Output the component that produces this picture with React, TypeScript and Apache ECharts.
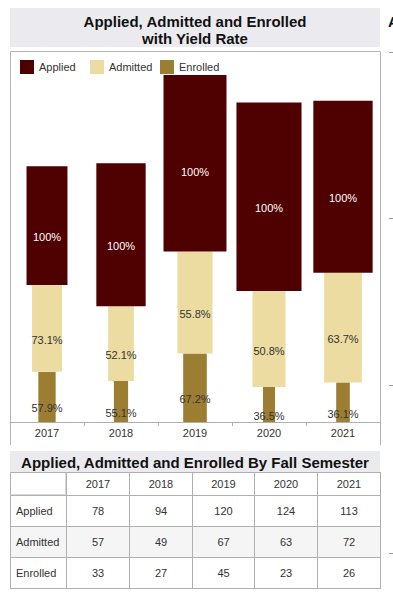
import React, { useEffect, useRef } from "react";
import * as echarts from "echarts";

const categories = ["2017", "2018", "2019", "2020", "2021"];
const applied = [78, 94, 120, 124, 113];
const admitted = [57, 49, 67, 63, 72];
const enrolled = [33, 27, 45, 23, 26];

const FONT = '"Liberation Sans", Arial, sans-serif';
const COLORS = { Applied: "#4f0000", Admitted: "#ecdca2", Enrolled: "#9b7e31" };
const WIDTH_UNIT = 141;

const admittedRate = admitted.map((v, i) => ((v / applied[i]) * 100).toFixed(1) + "%");
const enrolledRate = enrolled.map((v, i) => ((v / admitted[i]) * 100).toFixed(1) + "%");
const appliedRate = applied.map(() => "100%");

function makeSeries(name: string, values: number[], bases: number[], labels: string[], labelColor: string) {
  const data = values.map((v, i) => [i, bases[i], bases[i] + v, v]);
  return {
    type: "custom",
    name,
    clip: true,
    itemStyle: { color: (COLORS as any)[name] },
    color: (COLORS as any)[name],
    encode: { x: 0, y: [1, 2] },
    data,
    renderItem: (params: any, api: any) => {
      const i = api.value(0);
      const p0 = api.coord([i, api.value(1)]);
      const p1 = api.coord([i, api.value(2)]);
      const band = api.size([1, 0])[0];
      const w = (api.value(3) / WIDTH_UNIT) * band;
      return {
        type: "group",
        children: [
          {
            type: "rect",
            shape: { x: p0[0] - w / 2, y: p1[1], width: w, height: p0[1] - p1[1] },
            style: { fill: (COLORS as any)[name] },
          },
          {
            type: "text",
            style: {
              text: labels[params.dataIndex],
              x: p0[0],
              y: (p0[1] + p1[1]) / 2 + 11.5,
              align: "center",
              verticalAlign: "middle",
              fill: labelColor,
              stroke: "transparent",
              lineWidth: 0,
              font: `11px ${FONT}`,
            },
          },
        ],
      };
    },
  };
}

const rowNames = ["Applied", "Admitted", "Enrolled"];
const rowValues = [applied, admitted, enrolled];

export default function App() {
  const ref = useRef<HTMLDivElement>(null);
  useEffect(() => {
    if (!ref.current) return;
    const chart = echarts.init(ref.current, undefined, { renderer: "svg" });
    const base0 = categories.map(() => 0);
    const base1 = enrolled.slice();
    const base2 = enrolled.map((v, i) => v + admitted[i]);
    const legendBase = {
      top: 55,
      itemWidth: 14,
      itemHeight: 14,
      icon: "rect",
      textStyle: { fontSize: 11, color: "#333", fontFamily: FONT },
    };
    chart.setOption({
      animation: false,
      legend: [
        { ...legendBase, left: 15, data: ["Applied"] },
        { ...legendBase, left: 85, data: ["Admitted"] },
        { ...legendBase, left: 155, data: ["Enrolled"] },
      ],
      grid: { left: 10, right: 13, top: 75, bottom: 174, containLabel: false },
      xAxis: {
        type: "category",
        data: categories,
        axisLine: { lineStyle: { color: "#b0b0b0" } },
        axisTick: { show: true, length: 4, lineStyle: { color: "#b0b0b0" } },
        axisLabel: { fontSize: 11, color: "#333", fontFamily: FONT, margin: 5 },
      },
      yAxis: { type: "value", min: 0, max: 228, show: false, splitLine: { show: false } },
      series: [
        makeSeries("Enrolled", enrolled, base0, enrolledRate, "#333333"),
        makeSeries("Admitted", admitted, base1, admittedRate, "#333333"),
        makeSeries("Applied", applied, base2, appliedRate, "#ffffff"),
      ],
      graphic: [
        { type: "rect", shape: { x: 10, y: 8, width: 370, height: 39 }, style: { fill: "#ebebef" } },
        {
          type: "text",
          style: {
            text: "Applied, Admitted and Enrolled\nwith Yield Rate",
            x: 195,
            y: 13,
            align: "center",
            verticalAlign: "top",
            lineHeight: 17,
            font: `bold 15px ${FONT}`,
            fill: "#111",
          },
        },
        { type: "line", shape: { x1: 10.5, y1: 51.5, x2: 380.5, y2: 51.5 }, style: { stroke: "#b5b5b5", lineWidth: 1 } },
        { type: "line", shape: { x1: 10.5, y1: 51.5, x2: 10.5, y2: 445 }, style: { stroke: "#b5b5b5", lineWidth: 1 } },
        { type: "line", shape: { x1: 380.5, y1: 51.5, x2: 380.5, y2: 445 }, style: { stroke: "#b5b5b5", lineWidth: 1 } },
        { type: "rect", shape: { x: 10, y: 451, width: 370, height: 21 }, style: { fill: "#ebebef" } },
        {
          type: "text",
          style: {
            text: "Applied, Admitted and Enrolled By Fall Semester",
            x: 195,
            y: 462,
            align: "center",
            verticalAlign: "middle",
            font: `bold 15px ${FONT}`,
            fill: "#111",
          },
        },
        {
          type: "text",
          style: { text: "A", x: 388, y: 21, align: "left", verticalAlign: "middle", font: `bold 15px ${FONT}`, fill: "#111" },
        },
        ...[52, 218, 385, 553].map((y) => ({
          type: "line",
          shape: { x1: 389, y1: y + 0.5, x2: 393, y2: y + 0.5 },
          style: { stroke: "#999", lineWidth: 1 },
        })),
      ],
    });
    return () => chart.dispose();
  }, []);

  const colW = [56, 63, 63, 62, 63, 63];
  const cell: React.CSSProperties = {
    border: "1px solid #b0b0b0",
    padding: 0,
    fontSize: 11,
    color: "#333",
    textAlign: "center",
    fontFamily: FONT,
  };
  return (
    <div style={{ position: "absolute", left: 0, top: 0, width: 393, height: 596, background: "#fff" }}>
      <div ref={ref} style={{ position: "absolute", left: 0, top: 0, width: 393, height: 596 }} />
      <table
        style={{
          position: "absolute",
          left: 10,
          top: 472,
          width: 371,
          borderCollapse: "collapse",
          tableLayout: "fixed",
        }}
      >
        <colgroup>
          {colW.map((w, i) => (
            <col key={i} style={{ width: w }} />
          ))}
        </colgroup>
        <tbody>
          <tr style={{ height: 23 }}>
            <td style={{ ...cell, boxShadow: "inset -1px -1px 0 #d8d8d8" }}></td>
            {categories.map((c) => (
              <td key={c} style={cell}>
                {c}
              </td>
            ))}
          </tr>
          {rowNames.map((r, ri) => (
            <tr key={r} style={{ height: 31, background: ri === 1 ? "#f5f5f5" : "#fff" }}>
              <td style={{ ...cell, textAlign: "left", paddingLeft: 5 }}>{r}</td>
              {rowValues[ri].map((v, i) => (
                <td key={i} style={cell}>
                  {v}
                </td>
              ))}
            </tr>
          ))}
        </tbody>
      </table>
    </div>
  );
}
